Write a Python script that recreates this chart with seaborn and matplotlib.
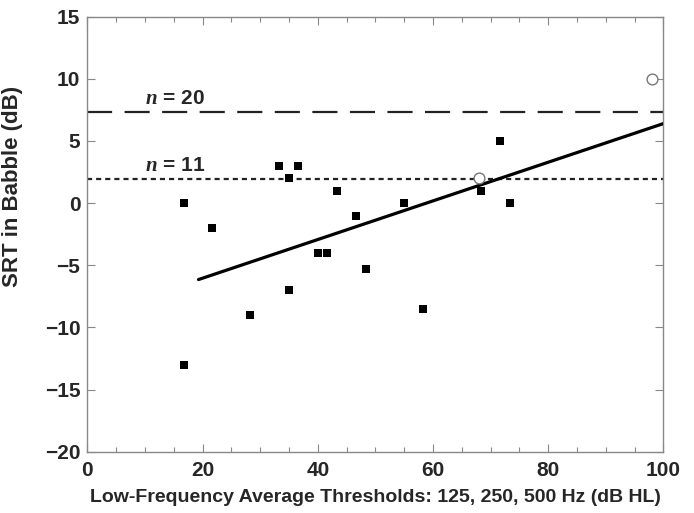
import numpy as np
import pandas as pd
import matplotlib
matplotlib.use('Agg')
import matplotlib.pyplot as plt
import seaborn as sns

# measured listeners (filled squares)
lfa = [16.7, 16.7, 21.7, 28.3, 33.3, 35.0, 35.0, 36.6, 40.0, 41.6, 43.4, 46.6,
       48.3, 54.9, 58.3, 68.3, 71.6, 73.3]
srt = [0.0, -13.0, -2.0, -9.0, 3.0, 2.0, -7.0, 3.0, -4.0, -4.0, 1.0, -1.0,
       -5.3, 0.0, -8.5, 1.0, 5.0, 0.0]

# open circles
open_lfa = [67.9, 98.0]
open_srt = [2.0, 10.0]

# regression line end points
fit_x = [19.3, 100.0]
fit_y = [-6.15, 6.4]

# reference levels
n20_level = 7.3
n11_level = 1.9

sns.set_theme(style='ticks')
plt.rcParams['font.family'] = ['Liberation Sans', 'DejaVu Sans']
plt.rcParams['mathtext.fontset'] = 'custom'
plt.rcParams['mathtext.it'] = 'Liberation Serif:italic:bold'

fig = plt.figure(figsize=(6.94, 5.13), dpi=100)
ax = fig.add_axes([0.1258, 0.1195, 0.8302, 0.848])

df = pd.DataFrame({'lfa': lfa, 'srt': srt})
sns.scatterplot(data=df, x='lfa', y='srt', marker='s', s=36, color='black',
                edgecolor='black', linewidth=0, ax=ax, zorder=4)
sns.scatterplot(x=open_lfa, y=open_srt, marker='o', s=60, facecolor='white',
                edgecolor='#777777', linewidth=1.0, ax=ax, zorder=5)

sns.lineplot(x=fit_x, y=fit_y, color='black', linewidth=2.3, ax=ax, zorder=3)

ax.axhline(n20_level, color='#222222', linewidth=1.6, dashes=(11.3, 5.6), zorder=2)
ax.axhline(n11_level, color='#222222', linewidth=1.6, dashes=(2.3, 1.8), zorder=2)

ax.text(10.0, 8.4, r'$n$ = 20', fontsize=15, fontweight='bold', va='center')
ax.text(10.0, 3.0, r'$n$ = 11', fontsize=15, fontweight='bold', va='center')

ax.set_xlim(0, 100)
ax.set_ylim(-20, 15)
ax.set_xticks([0, 20, 40, 60, 80, 100])
ax.set_xticks(np.arange(0, 101, 5), minor=True)
ax.set_yticks(np.arange(-20, 16, 5))
ax.set_yticklabels([str(v).replace('-', '\u2212') for v in range(-20, 16, 5)])

ax.tick_params(axis='both', which='both', direction='in', top=True, right=True,
               color='#888888', labelsize=15)
ax.tick_params(axis='x', which='both', pad=7)
ax.tick_params(axis='y', which='both', pad=5)
ax.tick_params(axis='both', which='major', length=6, width=0.8)
ax.tick_params(axis='both', which='minor', length=3.5, width=0.8)
for lab in ax.get_xticklabels() + ax.get_yticklabels():
    lab.set_fontweight('bold')

for sp in ax.spines.values():
    sp.set_color('#888888')
    sp.set_linewidth(1.0)

ax.set_xlabel('Low-Frequency Average Thresholds: 125, 250, 500 Hz (dB HL)',
              fontsize=14, fontweight='bold', labelpad=6)
ax.set_ylabel('SRT in Babble (dB)', fontsize=16, fontweight='bold')
ax.yaxis.set_label_coords(-0.111, 0.61)

fig.savefig('out.png', dpi=100)
